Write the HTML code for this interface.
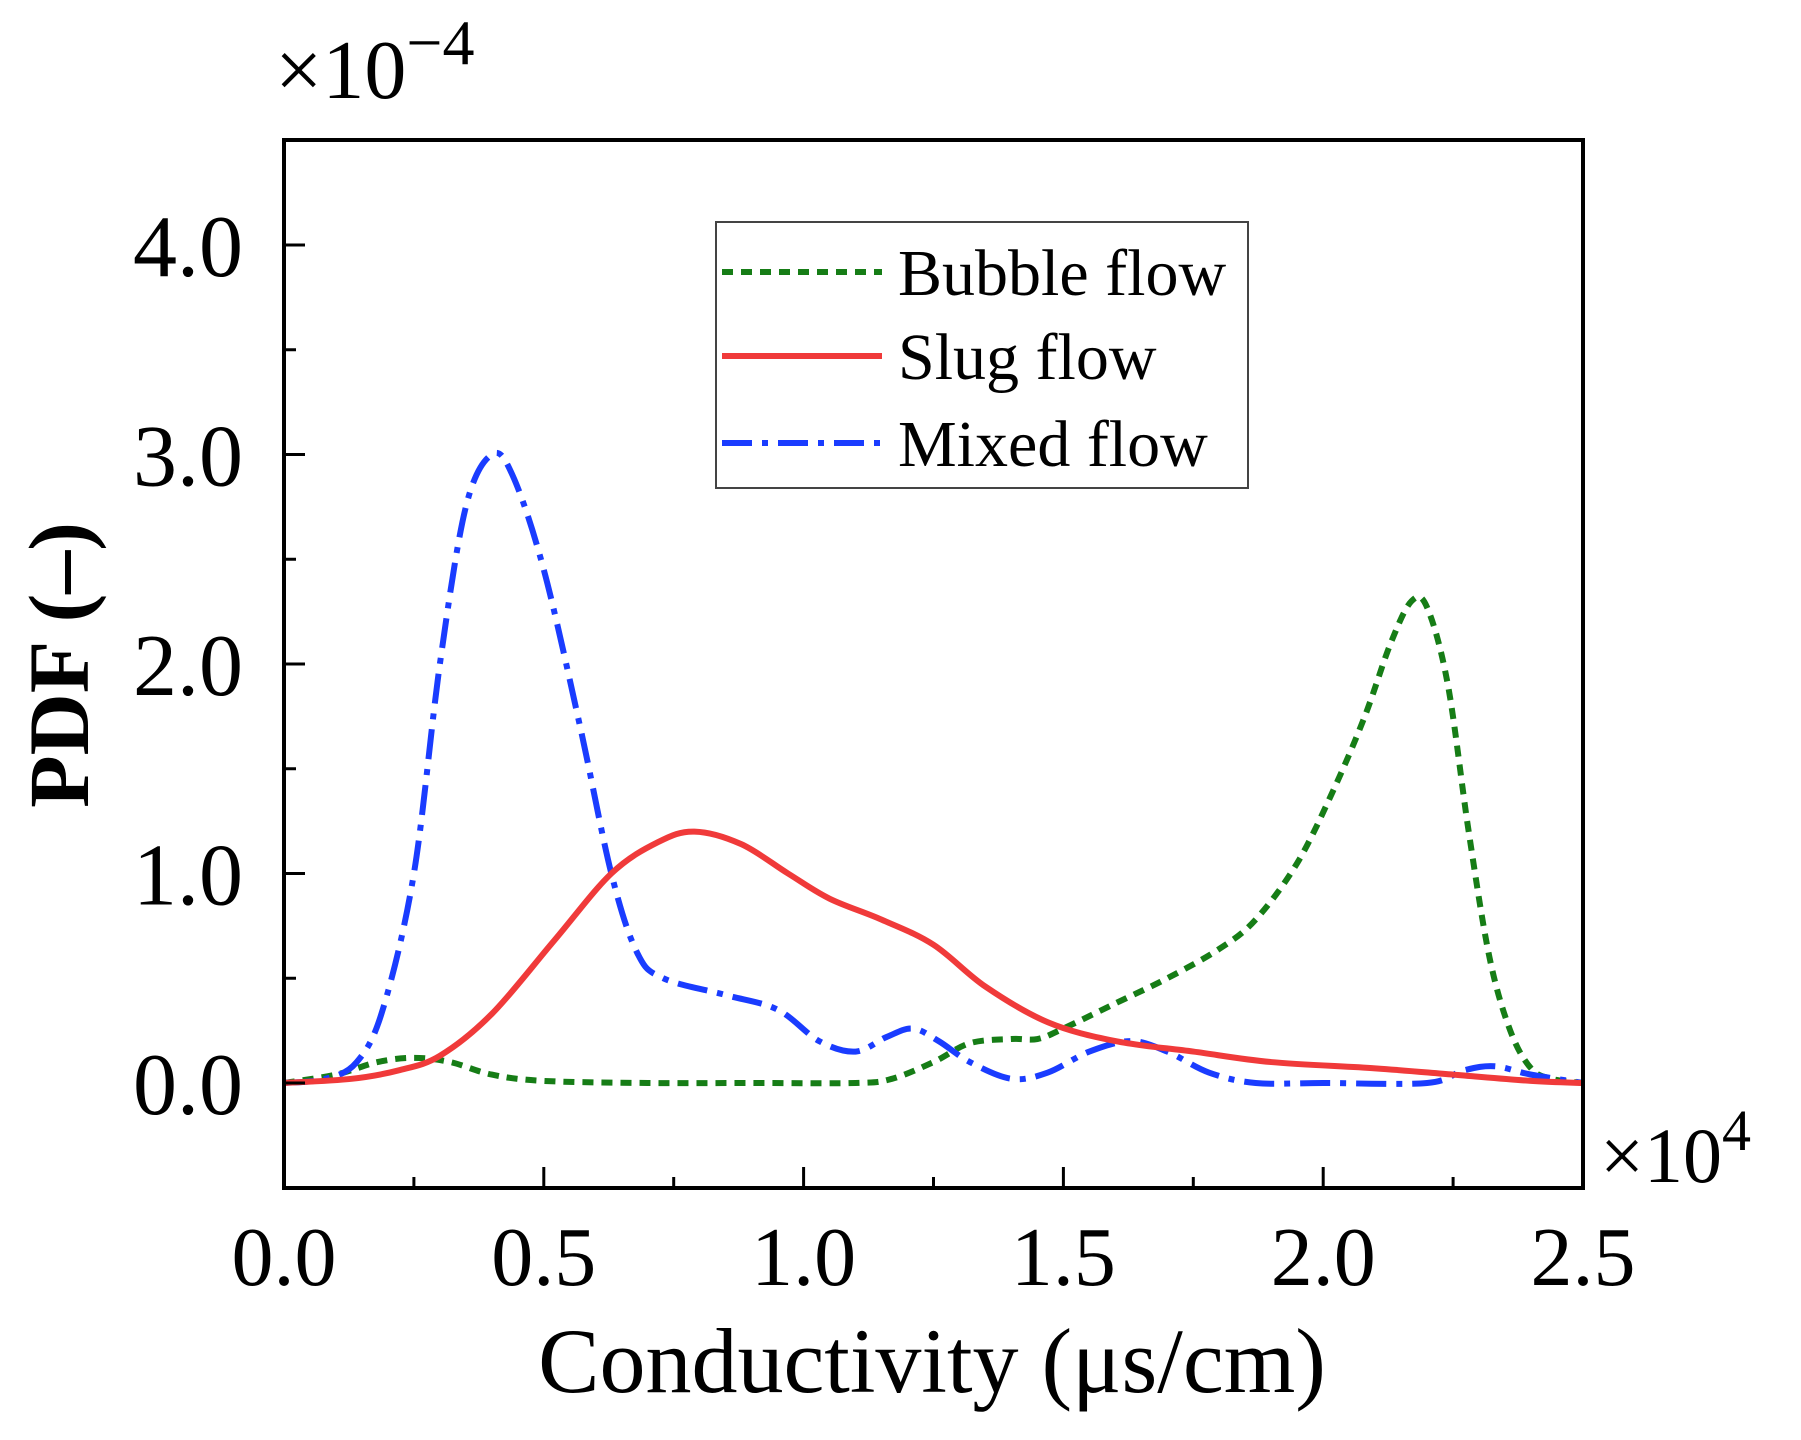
<!DOCTYPE html>
<html><head><meta charset="utf-8"><style>
html,body{margin:0;padding:0;background:#fff}
svg{display:block}
text{font-family:"Liberation Serif",serif;fill:#000}
</style></head><body>
<svg id="chart" width="1801" height="1440" viewBox="0 0 1801 1440">
<g id="series"></g>
<rect x="284" y="140" width="1299" height="1048" fill="none" stroke="#000" stroke-width="4"/>
<g id="ticks"></g>
<text x="275" y="98" font-size="84">×10<tspan dy="-34" font-size="64">−4</tspan></text>
<text x="1600" y="1182" font-size="78">×10<tspan dy="-32" font-size="58">4</tspan></text>
<text x="932" y="1392" font-size="92" text-anchor="middle">Conductivity (μs/cm)</text>
<text transform="translate(88,665) rotate(-90)" font-size="86" font-weight="bold" text-anchor="middle">PDF (–)</text>
<g>
<rect x="716" y="222" width="532" height="266" fill="#fff" stroke="#444" stroke-width="2"/>
<line x1="722" y1="272" x2="882" y2="272" stroke="#167d16" stroke-width="6" stroke-dasharray="11,8"/>
<text x="898" y="295" font-size="66">Bubble flow</text>
<line x1="722" y1="356" x2="882" y2="356" stroke="#f03a3a" stroke-width="6"/>
<text x="898" y="379" font-size="66">Slug flow</text>
<line x1="722" y1="443" x2="882" y2="443" stroke="#1a3cff" stroke-width="6" stroke-dasharray="30,10,6,10"/>
<text x="898" y="466" font-size="66">Mixed flow</text>
</g>
</svg>
<script>
const xTicks=[0,0.5,1.0,1.5,2.0,2.5];
const xTickLabels=["0.0","0.5","1.0","1.5","2.0","2.5"];
const yTicks=[0,1,2,3,4];
const yTickLabels=["0.0","1.0","2.0","3.0","4.0"];
const bubbleX=[0,0.1,0.18,0.25,0.32,0.4,0.5,0.7,0.9,1.1,1.17,1.25,1.32,1.4,1.45,1.5,1.6,1.7,1.8,1.87,1.95,2.02,2.08,2.13,2.17,2.2,2.24,2.28,2.32,2.36,2.4,2.44,2.5];
const bubbleY=[0,0.04,0.1,0.12,0.1,0.04,0.01,0,0,0,0.02,0.1,0.19,0.21,0.21,0.26,0.38,0.5,0.64,0.78,1.05,1.4,1.75,2.1,2.3,2.27,1.9,1.2,0.6,0.25,0.07,0.02,0];
const slugX=[0,0.13,0.22,0.3,0.4,0.52,0.63,0.72,0.79,0.88,0.97,1.05,1.15,1.25,1.35,1.47,1.6,1.75,1.9,2.1,2.25,2.4,2.5];
const slugY=[0,0.02,0.06,0.13,0.33,0.68,1.0,1.15,1.2,1.14,1.0,0.88,0.78,0.66,0.46,0.29,0.2,0.15,0.1,0.07,0.04,0.01,0];
const mixedX=[0,0.08,0.14,0.19,0.25,0.3,0.35,0.4,0.44,0.5,0.57,0.63,0.68,0.73,0.85,0.95,1.03,1.1,1.16,1.21,1.26,1.32,1.4,1.47,1.55,1.63,1.7,1.78,1.87,2.0,2.2,2.27,2.33,2.4,2.5];
const mixedY=[0,0.02,0.1,0.35,1.0,2.0,2.75,3.0,2.9,2.45,1.7,1.0,0.62,0.5,0.42,0.35,0.2,0.15,0.22,0.26,0.2,0.1,0.02,0.05,0.15,0.2,0.15,0.05,0,0,0,0.06,0.08,0.04,0];
const NS="http://www.w3.org/2000/svg";
const X0=284,X1=1583,Y0=1083,PU=209.5;
function sx(v){return X0+v/2.5*(X1-X0);}
function sy(v){return Y0-v*PU;}
function pathFor(xs,ys){
  const p=xs.map((x,i)=>[sx(x),sy(ys[i])]);
  let d="M"+p[0][0]+","+p[0][1];
  for(let i=0;i<p.length-1;i++){
    const a=p[Math.max(i-1,0)],b=p[i],c=p[i+1],e=p[Math.min(i+2,p.length-1)];
    const c1=[b[0]+(c[0]-a[0])/6,b[1]+(c[1]-a[1])/6],c2=[c[0]-(e[0]-b[0])/6,c[1]-(e[1]-b[1])/6];
    d+=" C"+c1+" "+c2+" "+c;
  }
  return d;
}
const sg=document.getElementById("series");
function addSeries(xs,ys,color,dash,name){
  const el=document.createElementNS(NS,"path");
  el.setAttribute("d",pathFor(xs,ys));
  el.setAttribute("fill","none");el.setAttribute("stroke",color);el.setAttribute("stroke-width","6");
  if(dash)el.setAttribute("stroke-dasharray",dash);
  
  
  sg.appendChild(el);
}
addSeries(bubbleX,bubbleY,"#167d16","11,8","bubble-flow-line");
addSeries(mixedX,mixedY,"#1a3cff","30,10,6,10","mixed-flow-line");
addSeries(slugX,slugY,"#f03a3a",null,"slug-flow-line");
const tg=document.getElementById("ticks");
function line(x1,y1,x2,y2,name){
  const l=document.createElementNS(NS,"line");
  l.setAttribute("x1",x1);l.setAttribute("y1",y1);l.setAttribute("x2",x2);l.setAttribute("y2",y2);
  l.setAttribute("stroke","#000");l.setAttribute("stroke-width","3");
  
  
  tg.appendChild(l);
}
function txt(x,y,s,anchor,size,name){
  const t=document.createElementNS(NS,"text");
  t.setAttribute("x",x);t.setAttribute("y",y);t.setAttribute("font-size",size);t.setAttribute("text-anchor",anchor);
  t.textContent=s;
  
  
  tg.appendChild(t);
}
xTicks.forEach((v,i)=>{
  line(sx(v),1188,sx(v),1167,"x-tick");
  txt(sx(v),1285,xTickLabels[i],"middle","84","x-tick-label");
  if(i<xTicks.length-1)line(sx(v+0.25),1188,sx(v+0.25),1177,"x-minor-tick");
});
yTicks.forEach((v,i)=>{
  line(284,sy(v),305,sy(v),"y-tick");
  txt(243,sy(v)+31,yTickLabels[i],"end","88","y-tick-label");
  line(284,sy(v+0.5),296,sy(v+0.5),"y-minor-tick");
});
</script>
</body></html>
